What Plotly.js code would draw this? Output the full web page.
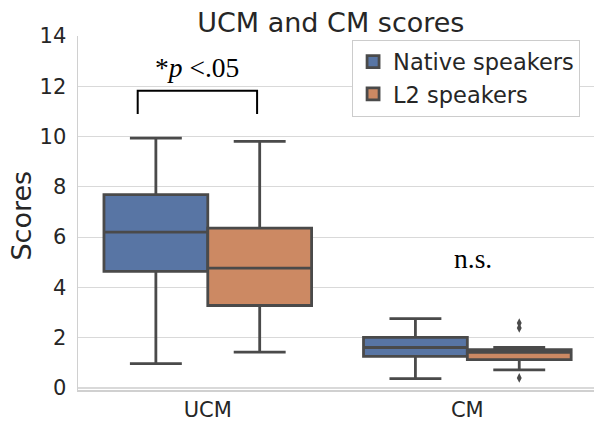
<!DOCTYPE html>
<html>
<head>
<meta charset="utf-8">
<script src="https://cdn.plot.ly/plotly-3.0.1.min.js"></script>
<style>html,body{margin:0;padding:0;background:#fff;}#chart{width:594px;height:423px;}</style>
</head>
<body>
<div id="chart"></div>
<script>
// Categories and series
const categories = ["UCM", "CM"];
const seriesNames = ["Native speakers", "L2 speakers"];

// Box statistics (per category: UCM, CM)
const nativeLower  = [0.97, 0.37];
const nativeQ1     = [4.64, 1.26];
const nativeMedian = [6.20, 1.61];
const nativeQ3     = [7.69, 2.01];
const nativeUpper  = [9.94, 2.76];

const l2Lower  = [1.43, 0.72];
const l2Q1     = [3.28, 1.13];
const l2Median = [4.77, 1.42];
const l2Q3     = [6.36, 1.52];
const l2Upper  = [9.81, 1.61];

// Outlier points (L2 speakers, CM)
const l2OutlierCats = ["CM", "CM", "CM"];
const l2OutlierVals = [2.58, 2.39, 0.40];

// Axis ticks
const yTicks = [0, 2, 4, 6, 8, 10, 12, 14];
const yTitle = "Scores";

// Significance annotations (data coordinates)
const sigText = "*<i>p</i> <.05";
const sigPos = [-0.04, 12.74];
const bracketX = [-0.27, 0.19];
const bracketY = [10.9, 11.82];
const nsText = "n.s.";
const nsPos = [1.02, 5.14];

const lineColor = "#4a4a4a";
const colors = ["#5875a4", "#cc8963"];
const groups = ["native", "l2"];

function boxTrace(name, color, group, lower, q1, med, q3, upper) {
  return {
    type: "box",
    name: name,
    x: categories,
    lowerfence: lower,
    q1: q1,
    median: med,
    q3: q3,
    upperfence: upper,
    offsetgroup: group,
    boxpoints: false,
    fillcolor: color,
    line: {color: lineColor, width: 2.8},
    whiskerwidth: 0.5,
    hoverinfo: "skip"
  };
}

const data = [
  boxTrace(seriesNames[0], colors[0], groups[0], nativeLower, nativeQ1, nativeMedian, nativeQ3, nativeUpper),
  boxTrace(seriesNames[1], colors[1], groups[1], l2Lower, l2Q1, l2Median, l2Q3, l2Upper),
  // placeholder to reserve the native slot in grouped scatter positioning
  {type: "scatter", mode: "markers", x: ["CM"], y: [null], offsetgroup: groups[0],
   showlegend: false, hoverinfo: "skip", marker: {opacity: 0}},
  {type: "scatter", mode: "markers", x: l2OutlierCats, y: l2OutlierVals, offsetgroup: groups[1],
   showlegend: false, hoverinfo: "skip",
   marker: {symbol: "diamond-tall", size: 7, color: lineColor}}
];

const textColor = "#262626";
const layout = {
  width: 594,
  height: 423,
  margin: {l: 78, r: 0, t: 36, b: 33, pad: 0},
  paper_bgcolor: "#ffffff",
  plot_bgcolor: "#ffffff",
  font: {family: "DejaVu Sans", color: textColor},
  title: {
    text: "UCM and CM scores",
    font: {size: 27, color: textColor, family: "DejaVu Sans"},
    x: 0.49, xref: "paper", xanchor: "center",
    y: 0.947, yref: "container", yanchor: "middle"
  },
  boxmode: "group",
  boxgap: 0.2,
  boxgroupgap: 0,
  scattermode: "group",
  scattergap: 0.2,
  showlegend: true,
  legend: {
    x: 0.973, xanchor: "right", y: 0.99, yanchor: "top",
    bgcolor: "#ffffff", bordercolor: "#cccccc", borderwidth: 1,
    font: {size: 22.5, color: textColor, family: "DejaVu Sans"},
    tracegroupgap: 0
  },
  xaxis: {
    type: "category",
    range: [-0.5, 1.488],
    showgrid: false,
    zeroline: false,
    showline: true,
    linecolor: "#d0d0d0",
    linewidth: 1.5,
    ticks: "",
    ticklabelstandoff: 0,
    tickfont: {size: 21, color: textColor}
  },
  yaxis: {
    range: [-0.08, 14.0],
    tickvals: yTicks,
    showgrid: true,
    gridcolor: "#d9d9d9",
    gridwidth: 1.2,
    zeroline: false,
    showline: true,
    linecolor: "#d0d0d0",
    linewidth: 1.5,
    ticks: "",
    ticklabelstandoff: 6,
    tickfont: {size: 21, color: textColor}
  },
  shapes: [{
    type: "path", xref: "x", yref: "y",
    path: "M " + bracketX[0] + "," + bracketY[0] + " L " + bracketX[0] + "," + bracketY[1] +
          " L " + bracketX[1] + "," + bracketY[1] + " L " + bracketX[1] + "," + bracketY[0],
    line: {color: "#000000", width: 2}
  }],
  annotations: [
    {x: sigPos[0], y: sigPos[1], xref: "x", yref: "y", text: sigText, showarrow: false,
     font: {family: "Liberation Serif", size: 27.5, color: "#000000"}, xanchor: "center", yanchor: "middle"},
    {x: nsPos[0], y: nsPos[1], xref: "x", yref: "y", text: nsText, showarrow: false,
     font: {family: "Liberation Serif", size: 27.5, color: "#000000"}, xanchor: "center", yanchor: "middle"},
    {x: -0.110, y: 0.4935, xref: "paper", yref: "paper", text: yTitle, showarrow: false,
     textangle: -90, xanchor: "center", yanchor: "middle",
     font: {family: "DejaVu Sans", size: 27, color: textColor}}
  ]
};

Plotly.newPlot("chart", data, layout, {staticPlot: true, displayModeBar: false});
</script>
</body>
</html>
